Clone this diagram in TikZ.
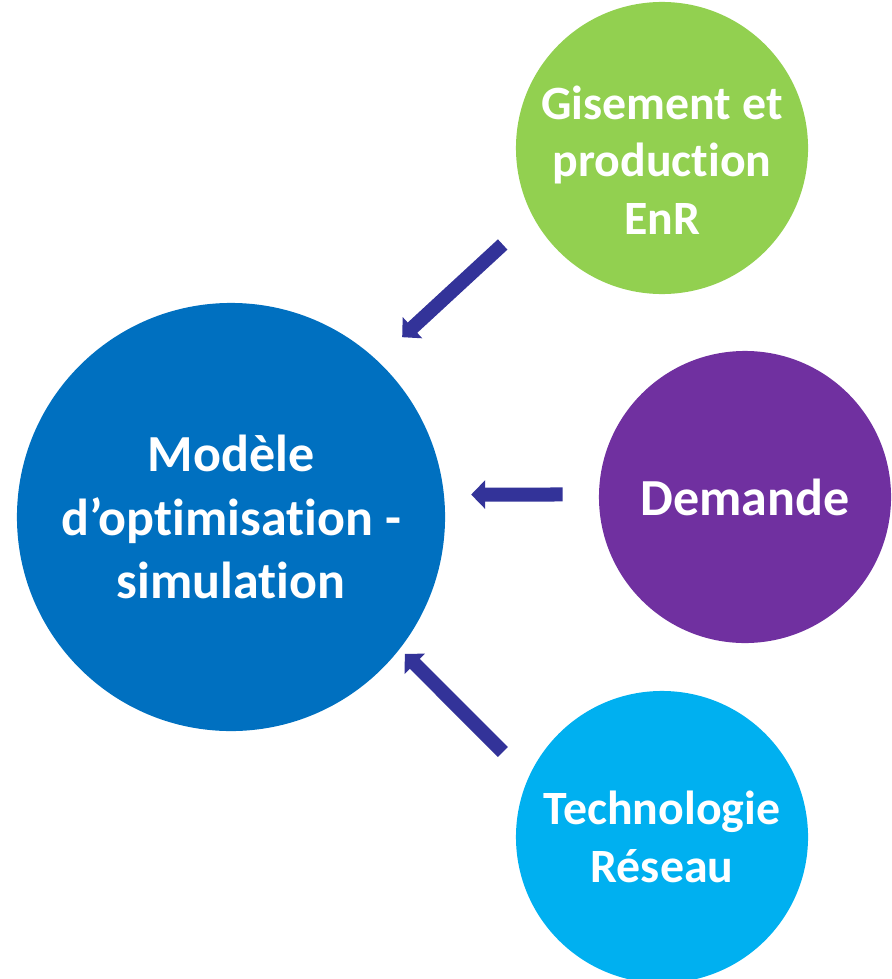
\documentclass[tikz,border=0pt]{standalone}
\usepackage{xcolor}
\usepackage{tikz}
\usepackage{fontspec}
\setmainfont{Carlito}[Ligatures=NoCommon]
\usetikzlibrary{arrows.meta, positioning}
\definecolor{modelblue}{HTML}{0070C0}
\definecolor{enrgreen}{HTML}{92D050}
\definecolor{demandpurple}{HTML}{7030A0}
\definecolor{reseaucyan}{HTML}{00B0F0}
\definecolor{arrowblue}{HTML}{333399}
\tikzstyle{bubble} = [circle, inner sep=0pt, minimum size=7.3cm, draw=none]
\tikzstyle{bigbubble} = [circle, inner sep=0pt, minimum size=10.7cm, draw=none, fill=modelblue]
\tikzstyle{bubbletext} = [text=white, align=center, font=\bfseries\fontsize{34pt}{41pt}\selectfont]
\tikzstyle{bigtext} = [text=white, align=center, font=\bfseries\fontsize{37pt}{45pt}\selectfont]
\tikzstyle{fatarrow} = [line width=0.35cm, color=arrowblue, -{Triangle[length=0.35cm, width=0.7cm]}]

\begin{document}
\begin{tikzpicture}[x=0.025cm, y=-0.025cm]
    \useasboundingbox (0,0) rectangle (892,979);

    % the model and its three inputs
    \node[bigbubble] (model) at (231,517) {};
    \node[bubble, fill=enrgreen] (gisement) at (662,148) {};
    \node[bubble, fill=demandpurple] (demande) at (745,497) {};
    \node[bubble, fill=reseaucyan] (techno) at (662,837) {};

    \node[bigtext] (modeltext) at (model) {Modèle\\d’optimisation -\\simulation};
    \node[bubbletext] (gisementtext) at ([yshift=-0.3cm]gisement) {Gisement et\\production\\EnR};
    \node[bigtext] (demandetext) at (demande) {Demande};
    \node[bubbletext] (technotext) at (techno) {Technologie\\Réseau};

    % inputs feed the model
    \draw[fatarrow, shorten <=1.025cm, shorten >=0.85cm] (gisement.208) -- (model.47);
    \draw[fatarrow, shorten <=0.9cm, shorten >=0.675cm] (demande.179) -- (model.6);
    \draw[fatarrow, shorten <=0.9cm, shorten >=0.175cm] (techno.156) -- (model.-38);
\end{tikzpicture}
\end{document}
